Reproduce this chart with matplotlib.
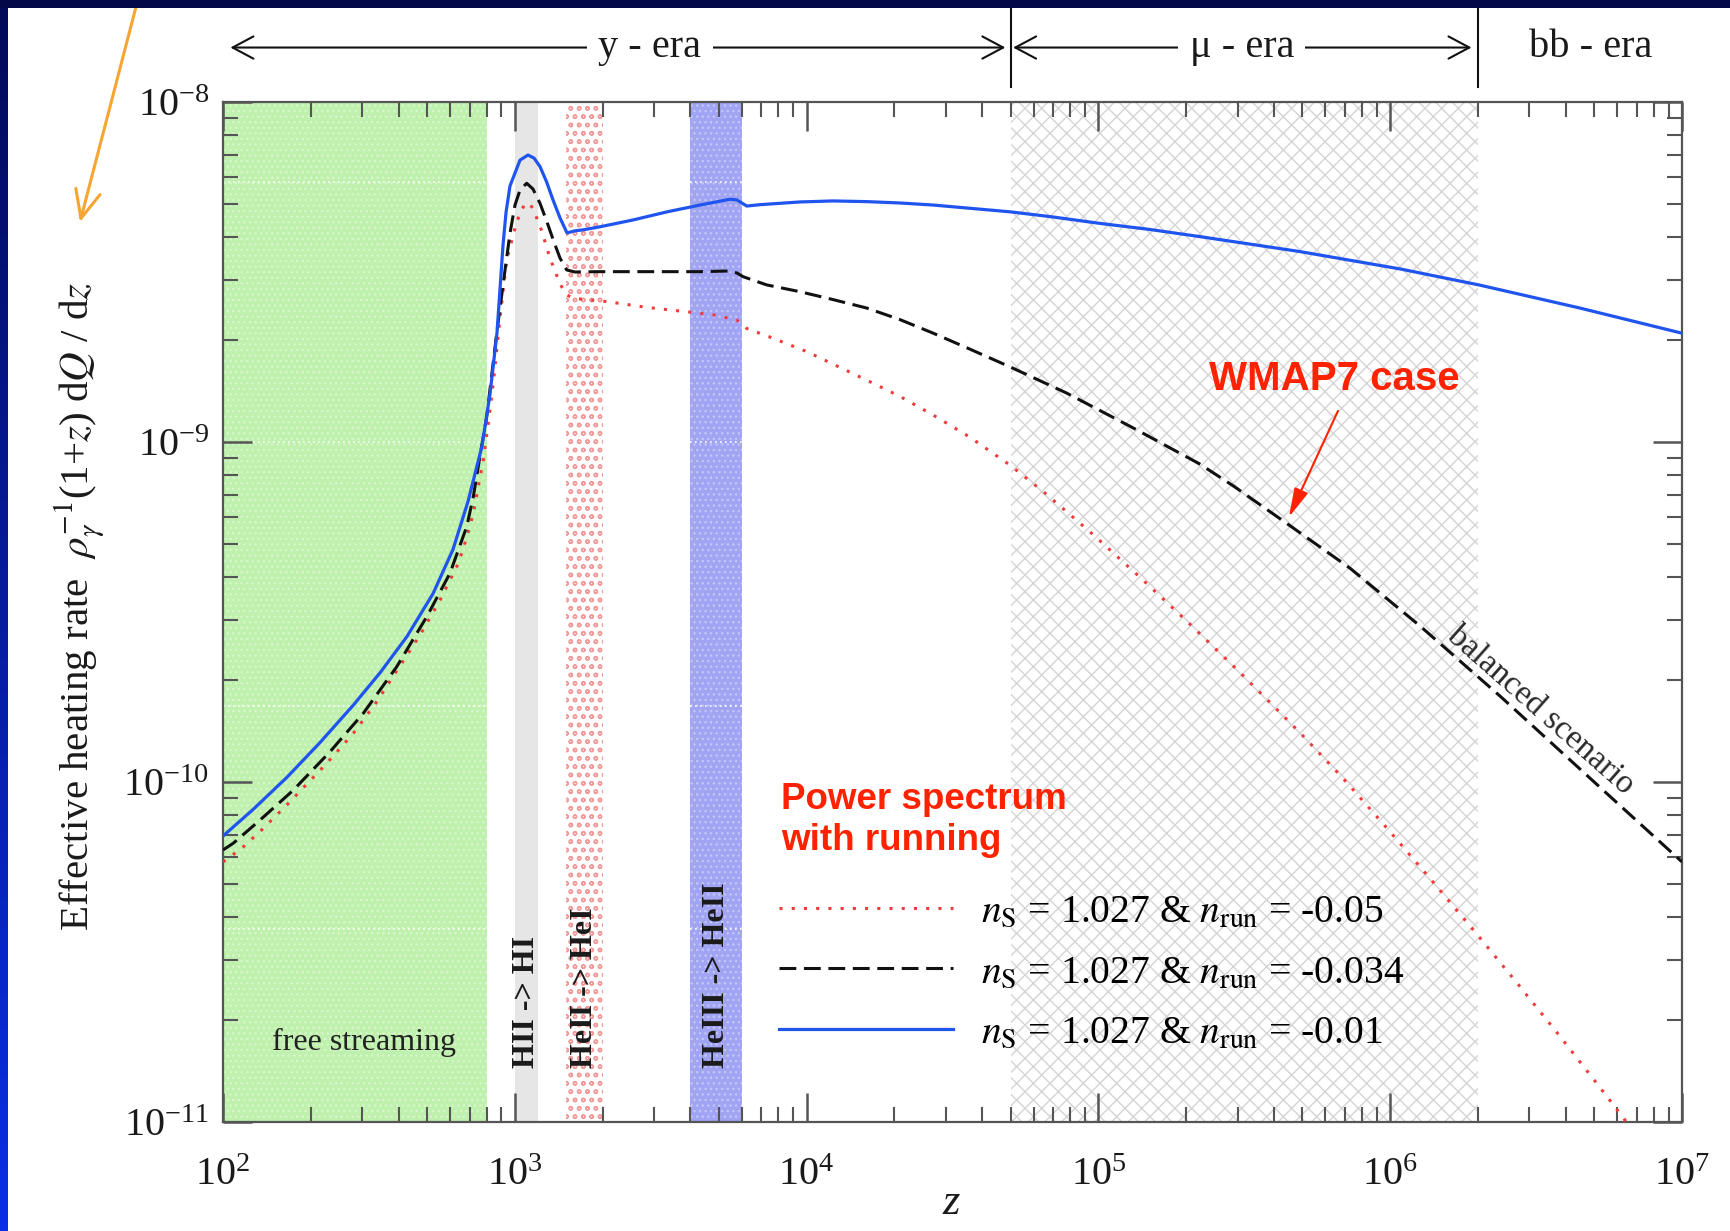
import numpy as np
import matplotlib
matplotlib.use('Agg')
import matplotlib.pyplot as plt
from matplotlib.colors import LinearSegmentedColormap
from matplotlib.patches import Rectangle
from matplotlib.ticker import LogLocator, NullFormatter

matplotlib.rcParams['font.family'] = 'serif'
matplotlib.rcParams['font.serif'] = ['Liberation Serif', 'DejaVu Serif']
matplotlib.rcParams['mathtext.fontset'] = 'stix'
matplotlib.rcParams['axes.unicode_minus'] = False
matplotlib.rcParams['hatch.linewidth'] = 1.0

# heating rate curves, stored as log10(z) and log10(rho^-1 (1+z) dQ/dz)
# n_run = -0.05
logz_run05 = [2.0, 2.0641, 2.1326, 2.2296, 2.3554, 2.4465, 2.5267, 2.6008, 2.6751,
              2.7437, 2.8064, 2.8328, 2.8578, 2.892, 2.9092, 2.9263, 2.9493, 2.9722,
              3.0007, 3.0178, 3.035, 3.0487, 3.0634, 3.0922, 3.1206, 3.1549, 3.1779,
              3.2063, 3.3149, 3.452, 3.5891, 3.6803, 3.7605, 3.7947, 3.8859, 4.0003,
              4.206, 4.3201, 4.4342, 4.56, 4.6971, 4.8112, 4.9815, 5.1426, 5.3019,
              5.4853, 5.6909, 5.8393, 5.988, 6.1477, 6.2848, 6.4335, 6.5706, 6.7077,
              6.7875, 6.8218]
logq_run05 = [-10.235, -10.195, -10.141, -10.058, -9.945, -9.857, -9.764, -9.666, -9.568,
              -9.465, -9.357, -9.288, -9.21, -9.053, -8.944, -8.827, -8.635, -8.465,
              -8.371, -8.326, -8.3, -8.297, -8.315, -8.379, -8.459, -8.535, -8.568,
              -8.578, -8.587, -8.604, -8.617, -8.626, -8.641, -8.666, -8.695, -8.734,
              -8.818, -8.866, -8.921, -8.986, -9.068, -9.146, -9.272, -9.398, -9.526,
              -9.678, -9.855, -9.99, -10.135, -10.295, -10.435, -10.59, -10.736, -10.886,
              -10.975, -11.014]

# n_run = -0.034 (WMAP7 / balanced scenario)
logz_run034 = [2.0, 2.0353, 2.1268, 2.2409, 2.3667, 2.4808, 2.5953, 2.6981, 2.7779,
               2.8352, 2.8578, 2.8807, 2.9037, 2.9209, 2.938, 2.9606, 2.9835, 3.0007,
               3.0178, 3.0408, 3.0624, 3.0864, 3.1103, 3.1319, 3.1549, 3.1779, 3.2063,
               3.292, 3.635, 3.7375, 3.7615, 3.783, 3.8633, 3.9774, 4.09, 4.206, 4.32,
               4.434, 4.56, 4.697, 4.891, 5.12, 5.348, 5.462, 5.653, 5.862, 6.102, 6.376,
               6.74, 7.0]
logq_run034 = [-10.2, -10.18, -10.112, -10.024, -9.911, -9.798, -9.661, -9.514, -9.386,
               -9.249, -9.161, -9.041, -8.926, -8.803, -8.68, -8.532, -8.386, -8.303,
               -8.259, -8.239, -8.256, -8.298, -8.353, -8.406, -8.459, -8.494, -8.5,
               -8.499, -8.499, -8.497, -8.503, -8.514, -8.538, -8.558, -8.581, -8.606,
               -8.64, -8.68, -8.727, -8.779, -8.856, -8.959, -9.065, -9.129, -9.244,
               -9.371, -9.541, -9.747, -10.032, -10.235]

# n_run = -0.01
logz_run01 = [2.0, 2.1028, 2.2193, 2.3324, 2.4455, 2.538, 2.6306, 2.7197, 2.7882,
              2.8396, 2.8876, 2.915, 2.939, 2.9596, 2.97, 2.9835, 3.0178, 3.0452, 3.066,
              3.0864, 3.109, 3.1309, 3.155, 3.1789, 3.206, 3.234, 3.292, 3.405, 3.522,
              3.635, 3.738, 3.761, 3.795, 3.84, 3.977, 4.09, 4.206, 4.32, 4.433, 4.697,
              4.834, 5.005, 5.177, 5.348, 5.52, 5.691, 6.034, 6.304, 6.65, 7.0]
logq_run01 = [-10.159, -10.081, -9.986, -9.884, -9.775, -9.679, -9.572, -9.446, -9.316,
              -9.175, -9.012, -8.859, -8.679, -8.421, -8.324, -8.247, -8.171, -8.156,
              -8.165, -8.19, -8.235, -8.288, -8.341, -8.385, -8.379, -8.376, -8.367,
              -8.347, -8.323, -8.303, -8.286, -8.288, -8.306, -8.302, -8.294, -8.291,
              -8.293, -8.297, -8.303, -8.323, -8.337, -8.357, -8.375, -8.396, -8.418,
              -8.44, -8.491, -8.538, -8.606, -8.68]

labels = [r'$n_{\mathrm{S}}$ = 1.027 & $n_{\mathrm{run}}$ = -0.05',
          r'$n_{\mathrm{S}}$ = 1.027 & $n_{\mathrm{run}}$ = -0.034',
          r'$n_{\mathrm{S}}$ = 1.027 & $n_{\mathrm{run}}$ = -0.01']

# shaded redshift ranges: free streaming, HII, HeII, HeIII recombination, mu era
band_lo = [100, 1000, 1500, 4000, 5.0e4]
band_hi = [800, 1200, 2000, 6000, 2.0e6]
band_text = [None, 'HII -> HI', 'HeII -> HeI', 'HeIII -> HeII', None]

# era boundaries along the top
era_edges = [5.0e4, 2.0e6]
era_names = ['y - era', u'\u03bc - era', 'bb - era']
era_text_z = [2.9e3, 3.1e5, 4.85e6]
era_arrow_lo = [106, 5.1e4]
era_arrow_hi = [4.8e4, 1.9e6]

grid_y = [5.8e-9, 1.0e-9, 1.67e-10, 3.7e-11]

fig = plt.figure(figsize=(17.31, 12.31), dpi=100, facecolor='white')
ax = fig.add_axes([223 / 1731, 109 / 1231, 1459 / 1731, 1020 / 1231])

# slide frame: navy band on top, blue gradient on the left edge
strip = fig.add_axes([0, 0, 8 / 1731, 1])
strip.imshow(np.linspace(0, 1, 256)[:, None], aspect='auto',
             cmap=LinearSegmentedColormap.from_list('slide', ['#020a58', '#0a2fe6']))
strip.axis('off')
fig.add_artist(Rectangle((0, 1 - 8 / 1231), 1, 8 / 1231, transform=fig.transFigure,
                         facecolor='#020848', edgecolor='none', zorder=5))

band_face = ['#bff0ad', '#e6e6e6', 'white', '#a0a4f3', 'white']
band_edge = ['#d6f8ca', '#e6e6e6', '#f29a9a', '#c3c5f9', '#d4d4d4']
band_hatch = ['...', None, 'oo', '...', 'xx']
for lo, hi, fc, ec, h in zip(band_lo, band_hi, band_face, band_edge, band_hatch):
    ax.axvspan(lo, hi, facecolor=fc, edgecolor=ec, hatch=h, linewidth=0, zorder=0)

for i in (0, 3):
    ax.hlines(grid_y, band_lo[i], band_hi[i], colors='white', linestyles=(0, (1, 2)),
              linewidth=1.2, zorder=1)

ax.plot(10 ** np.array(logz_run05), 10 ** np.array(logq_run05), color='#ee3b3b', lw=2.2,
        ls=(0, (1, 3)), label=labels[0], zorder=3)
ax.plot(10 ** np.array(logz_run034), 10 ** np.array(logq_run034), color='#111111', lw=2.2,
        ls=(0, (5.5, 2.5)), label=labels[1], zorder=3)
ax.plot(10 ** np.array(logz_run01), 10 ** np.array(logq_run01), color='#1f55ee', lw=2.3,
        label=labels[2], zorder=4)

ax.set_xscale('log')
ax.set_yscale('log')
ax.set_xlim(1e2, 1e7)
ax.set_ylim(1e-11, 1e-8)
for axis in (ax.xaxis, ax.yaxis):
    axis.set_minor_locator(LogLocator(subs=np.arange(2, 10), numticks=20))
    axis.set_minor_formatter(NullFormatter())

ax.tick_params(which='both', direction='in', top=True, right=True, color='#555555',
               labelcolor='#1a1a1a')
ax.tick_params(which='major', length=21, width=1.8)
ax.tick_params(which='minor', length=11, width=1.5)
ax.tick_params(axis='x', which='major', pad=25, labelsize=29)
ax.tick_params(axis='y', which='major', pad=10, labelsize=29)
for sp in ax.spines.values():
    sp.set_color('#555555')
    sp.set_linewidth(1.6)

# band labels
xt = ax.get_xaxis_transform()
for lo, hi, txt in zip(band_lo, band_hi, band_text):
    if txt:
        ax.text(np.sqrt(lo * hi), 0.053, txt, transform=xt, rotation=90,
                ha='center', va='bottom', fontsize=23, fontweight='bold', color='#1a1a1a')
ax.text(0.0966, 0.0775, 'free streaming', transform=ax.transAxes, ha='center',
        va='center', fontsize=23, color='#222222')
ax.text(0.9033, 0.403, 'balanced scenario', transform=ax.transAxes, rotation=-41.4,
        rotation_mode='anchor', ha='center', va='center', fontsize=24, color='#2a2a2a')

# era markers above the frame
for e in era_edges:
    ax.plot([e, e], [1.0147, 1.092], transform=xt, color='#111111', lw=1.5, clip_on=False)
for lo, hi in zip(era_arrow_lo, era_arrow_hi):
    ax.annotate('', xy=(lo, 1.0534), xytext=(hi, 1.0534), xycoords=xt, textcoords=xt,
                annotation_clip=False,
                arrowprops=dict(arrowstyle='<->,head_length=0.75,head_width=0.4',
                                color='#111111', lw=1.5, shrinkA=0, shrinkB=0,
                                mutation_scale=20))
for z, name in zip(era_text_z, era_names):
    ax.text(z, 1.0534, name, transform=xt, ha='center', va='center', fontsize=29,
            color='#1a1a1a', clip_on=False,
            bbox=dict(facecolor='white', edgecolor='none', pad=8))

# highlighted notes
red_note = '#ff2200'
ax.text(0.762, 0.7284, 'WMAP7 case', transform=ax.transAxes, ha='center', va='center',
        fontsize=29, fontweight='bold', family='Liberation Sans', color=red_note)
ax.annotate('', xy=(0.7306, 0.5931), xytext=(0.7642, 0.6971), xycoords='axes fraction',
            arrowprops=dict(arrowstyle='-|>,head_length=0.8,head_width=0.2', color=red_note,
                            lw=1.5, shrinkA=0, shrinkB=0, mutation_scale=22))
ax.text(0.3825, 0.333, 'Power spectrum\nwith running', transform=ax.transAxes,
        ha='left', va='top', fontsize=26.5, fontweight='bold', family='Liberation Sans',
        color=red_note, linespacing=1.2)

leg = ax.legend(loc='upper left', bbox_to_anchor=(0.381, 0.224), frameon=False,
                fontsize=28.5, handlelength=4.4, handletextpad=0.7,
                labelspacing=0.6, borderpad=0, borderaxespad=0)

fig.text(951 / 1731, 1 - 1203 / 1231, 'z', style='italic', fontsize=32,
         ha='center', va='center', color='#1a1a1a')
fig.text(80 / 1731, 1 - 606 / 1231,
         r'Effective heating rate  $\rho_\gamma^{-1}$(1+$z$) d$Q$ / d$z$',
         rotation=90, ha='center', va='center', fontsize=29.5, color='#1a1a1a')

ax.annotate('', xy=(80 / 1731, 1 - 222 / 1231), xytext=(141 / 1731, 1.01),
            xycoords='figure fraction', textcoords='figure fraction', annotation_clip=False,
            arrowprops=dict(arrowstyle='->,head_length=1.0,head_width=0.45', color='#f7a531',
                            lw=2.2, shrinkA=0, shrinkB=0, mutation_scale=20), zorder=10)

fig.savefig('out.png', dpi=100, facecolor='white')
